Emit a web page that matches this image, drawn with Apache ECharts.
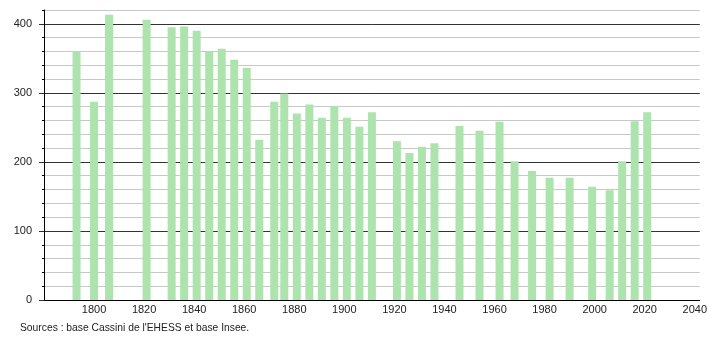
<!DOCTYPE html>
<html>
<head>
<meta charset="utf-8">
<script src="https://cdn.jsdelivr.net/npm/echarts@6/dist/echarts.min.js"></script>
<style>
html,body{margin:0;padding:0;background:#fff;}
#c{width:710px;height:340px;}
</style>
</head>
<body>
<div id="c"></div>
<script>
const years = [1793,1800,1806,1821,1831,1836,1841,1846,1851,1856,1861,1866,1872,1876,1881,1886,1891,1896,1901,1906,1911,1921,1926,1931,1936,1946,1954,1962,1968,1975,1982,1990,1999,2006,2011,2016,2021];
const population = [360,287,413,406,395,396,390,359,364,348,336,232,287,299,270,283,264,281,264,251,272,230,213,222,227,252,245,258,201,187,177,177,164,159,201,259,272];
const xTicks = [1800,1820,1840,1860,1880,1900,1920,1940,1960,1980,2000,2020,2040];
const yTicks = [0,100,200,300,400];
const sourceText = "Sources : base Cassini de l'EHESS et base Insee.";

const chart = echarts.init(document.getElementById('c'), null, {renderer:'canvas'});
const font = 'Liberation Sans, Arial, sans-serif';
chart.setOption({
  animation:false,
  backgroundColor:'#fff',
  grid:{left:44,right:10,top:10,bottom:40,containLabel:false},
  graphic:[{type:'text',left:20,top:323,style:{text:sourceText,font:'10.3px '+font,fill:'#222'}}],
  xAxis:{
    type:'value',min:1780,max:2042,interval:20,
    axisLine:{show:true,lineStyle:{color:'#000',width:1}},
    axisTick:{show:false},
    splitLine:{show:false},
    axisLabel:{customValues:xTicks,margin:4,color:'#222',fontSize:11,fontFamily:font,formatter:v=>String(v)}
  },
  yAxis:[{
    type:'value',min:0,max:420,interval:20,
    axisLine:{show:true,lineStyle:{color:'#000',width:1}},
    axisTick:{show:true,length:2,lineStyle:{color:'#000'}},
    splitLine:{show:true,lineStyle:{color:['#333','#c8c8c8','#c8c8c8','#c8c8c8','#c8c8c8'],width:1}},
    axisLabel:{customValues:yTicks,margin:12,color:'#222',fontSize:11,fontFamily:font,formatter:v=>String(v)}
  },{
    type:'value',min:0,max:420,position:'left',
    axisLine:{show:false},
    axisTick:{show:true,length:5,customValues:yTicks,lineStyle:{color:'#333'}},
    axisLabel:{show:false},
    splitLine:{show:false}
  }],
  series:[{
    type:'bar',
    barWidth:8,
    data:years.map((y,i)=>[y,population[i]]),
    itemStyle:{color:'#ade3ad'}
  }]
});
</script>
</body>
</html>
